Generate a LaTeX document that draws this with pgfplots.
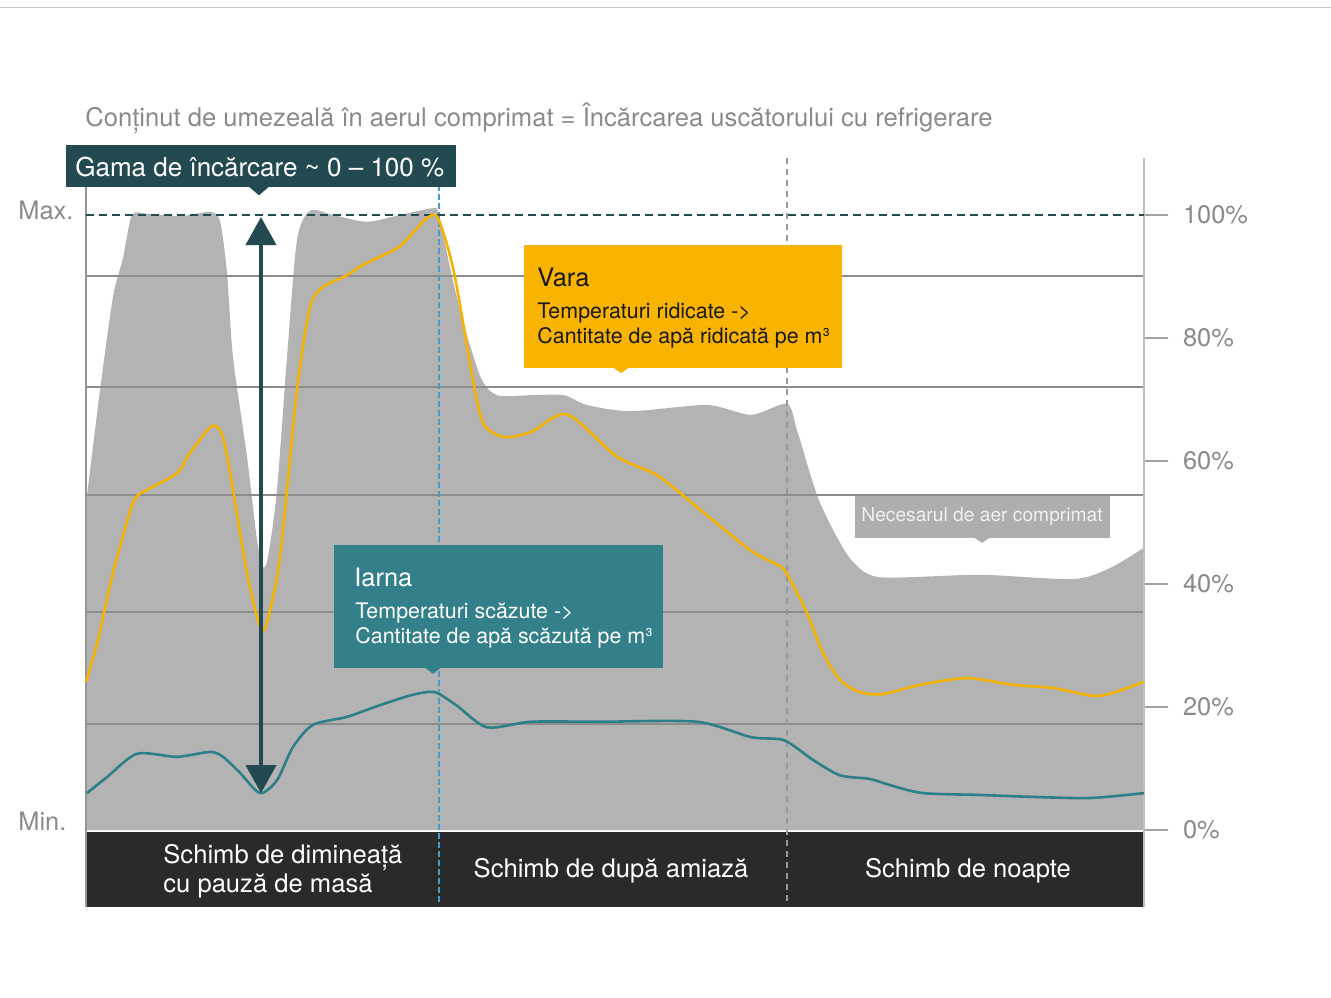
\documentclass[border=0pt]{standalone}
\usepackage{fontspec}
\setmainfont{TeX Gyre Heros}
\usepackage{pgfplots}
\pgfplotsset{compat=1.18}
\usetikzlibrary{arrows.meta}
\definecolor{areagray}{HTML}{B3B3B3}
\definecolor{gridgray}{HTML}{8C8C8C}
\definecolor{txtgray}{HTML}{8A8A8A}
\definecolor{darkteal}{HTML}{234A50}
\definecolor{summer}{HTML}{F8B400}
\definecolor{summerline}{HTML}{F5B400}
\definecolor{winter}{HTML}{337F8A}
\definecolor{winterline}{HTML}{2E8088}
\definecolor{band}{HTML}{2A2A2A}
\definecolor{vblue}{HTML}{4A9BC9}
\begin{document}
\begin{tikzpicture}[x=1pt,y=1pt]
\useasboundingbox (-43,-45) rectangle (622.5,453.5);
\begin{axis}[
 at={(0,0)}, anchor=south west,
 width=529pt, height=374.5pt, scale only axis,
 xmin=86, xmax=1144, ymin=-12.52, ymax=109.27,
 clip=false,
 axis line style={draw=none},
 xtick=\empty,
 ytick={0,20,40,60,80,100},
 yticklabels={0\%,20\%,40\%,60\%,80\%,100\%},
 ytick pos=right, yticklabel pos=right,
 ytick align=outside, major tick length=12pt,
 y tick style={draw=txtgray!80, line width=0.6pt},
 yticklabel style={font=\fontsize{12.7}{15}\selectfont, text=txtgray, anchor=west, xshift=4pt},
 /pgf/number format/assume math mode=true,
]
% demand area
\addplot[draw=none, fill=areagray, smooth, tension=0.45] coordinates {
(86,53.0) (100,71.5) (113,86.7) (123,93.0) (132,100.0) (147,100.2) (180,99.8)
(210,100.5) (220,99.0) (227,90.6) (233,76.9) (247,60.7) (257,47.2) (263,42.8)
(268,44.4) (277,55.3) (287,76.9) (297,95.9) (310,100.7) (333,100.0) (367,98.9)
(400,100.0) (433,101.1) (439,100.0) (451,90.7) (464,82.1) (481,73.5) (497,70.7)
(531,70.7) (564,70.7) (587,69.1) (631,68.1) (707,69.1) (751,67.5) (787,69.3)
(797,65.0) (810,58.0) (820,53.2) (837,47.6) (853,43.6) (880,41.1) (980,41.5)
(1073,40.8) (1110,42.6) (1144,45.9)
} \closedcycle;
% grid lines
\draw[gridgray, line width=0.7pt] (axis cs:86,17.24) -- (axis cs:1144,17.24);
\draw[gridgray, line width=0.7pt] (axis cs:86,35.45) -- (axis cs:1144,35.45);
\draw[gridgray, line width=0.7pt] (axis cs:86,54.47) -- (axis cs:1144,54.47);
\draw[gridgray, line width=0.7pt] (axis cs:86,72.03) -- (axis cs:1144,72.03);
\draw[gridgray, line width=0.7pt] (axis cs:86,90.08) -- (axis cs:1144,90.08);
% bottom band
\fill[band] (axis cs:86,-12.52) rectangle (axis cs:1144,-0.3);
% axis lines
\draw[txtgray!90, line width=0.7pt] (axis cs:86,104.55) -- (axis cs:86,-12.52);
\draw[black!25, line width=1pt] (axis cs:1144,109.27) -- (axis cs:1144,-12.52);
% shift separators
\draw[vblue, line width=0.6pt, dash pattern=on 3pt off 1.5pt] (axis cs:439,109.27) -- (axis cs:439,-11.87);
\draw[black!40, line width=0.75pt, dash pattern=on 3pt off 2.5pt] (axis cs:787,109.27) -- (axis cs:787,-11.87);
% max line
\draw[darkteal, line width=1pt, dash pattern=on 4pt off 2.5pt] (axis cs:86,100) -- (axis cs:1144,100);
% summer
\addplot[summerline, line width=1.3pt, smooth, tension=0.45] coordinates {
(86,24.1) (98,30.9) (113,41.8) (133,53.2) (147,55.3) (177,58.0) (190,61.3)
(212,65.7) (223,63.9) (233,55.3) (247,41.8) (260,33.0) (267,33.7) (280,44.4)
(297,71.5) (310,85.0) (323,88.3) (347,90.2) (363,91.9) (397,94.6) (413,97.1)
(427,99.5) (438,99.5) (454,90.7) (474,72.2) (484,65.9) (504,63.9) (531,64.7)
(567,67.6) (617,60.7) (657,57.7) (697,52.5) (751,45.4) (781,42.8) (790,40.7)
(807,35.3) (823,28.8) (840,24.4) (860,22.4) (883,22.1) (920,23.6) (967,24.7)
(1013,23.6) (1053,23.1) (1093,21.8) (1113,22.3) (1144,24.1)
};
% winter
\addplot[winterline, line width=1.3pt, smooth, tension=0.45] coordinates {
(87,6.0) (107,8.6) (137,12.4) (177,11.9) (210,12.7) (223,11.9) (240,9.3)
(260,6.0) (277,8.1) (293,13.5) (313,17.1) (347,18.4) (380,20.3) (413,22.0)
(435,22.4) (457,20.2) (487,16.7) (531,17.6) (600,17.6) (697,17.6) (751,15.1)
(784,14.6) (813,11.4) (840,8.9) (870,8.3) (890,7.3) (923,6.0) (980,5.7)
(1030,5.4) (1090,5.2) (1144,6.0)
};
% range arrow
\draw[darkteal, line width=2pt, {Triangle[width=15pt,length=14pt]}-{Triangle[width=15pt,length=14pt]}] (axis cs:261,99.67) -- (axis cs:261,6.0);
% title
\node[anchor=west, inner sep=0pt, text=txtgray, font=\fontsize{12.8}{15}\selectfont] at (axis cs:85,115.77) {Conținut de umezeală în aerul comprimat = Încărcarea uscătorului cu refrigerare};
% range box
\fill[darkteal] (axis cs:66,111.38) rectangle (axis cs:456,104.55);
\fill[darkteal] (axis cs:249,104.6) -- (axis cs:269,104.6) -- (axis cs:259,103.2) -- cycle;
\node[anchor=west, inner sep=0pt, text=white, font=\fontsize{13}{15}\selectfont] at (axis cs:75,107.8) {Gama de încărcare \textasciitilde{} 0 – 100 \%};
% Max / Min
\node[anchor=west, inner sep=0pt, text=txtgray, font=\fontsize{12.7}{15}\selectfont] at (axis cs:18,100.8) {Max.};
\node[anchor=west, inner sep=0pt, text=txtgray, font=\fontsize{12.7}{15}\selectfont] at (axis cs:18,1.5) {Min.};
% summer box
\fill[summer] (axis cs:524,95.12) rectangle (axis cs:842,75.12);
\fill[summer] (axis cs:613,75.2) -- (axis cs:629,75.2) -- (axis cs:621,74.3) -- cycle;
\node[anchor=west, inner sep=0pt, text=black!90, font=\fontsize{12.7}{15}\selectfont] at (axis cs:537,89.9) {Vara};
\node[anchor=west, inner sep=0pt, text=black!90, font=\fontsize{10.7}{12}\selectfont] at (axis cs:537,84.0) {Temperaturi ridicate ->};
\node[anchor=west, inner sep=0pt, text=black!90, font=\fontsize{10.7}{12}\selectfont] at (axis cs:537,80.1) {Cantitate de apă ridicată pe m³};
% winter box
\fill[winter] (axis cs:334,46.34) rectangle (axis cs:663,26.34);
\fill[winter] (axis cs:425,26.4) -- (axis cs:441,26.4) -- (axis cs:433,25.4) -- cycle;
\node[anchor=west, inner sep=0pt, text=white, font=\fontsize{12.7}{15}\selectfont] at (axis cs:354,41.1) {Iarna};
\node[anchor=west, inner sep=0pt, text=white, font=\fontsize{10.7}{12}\selectfont] at (axis cs:355,35.2) {Temperaturi scăzute ->};
\node[anchor=west, inner sep=0pt, text=white, font=\fontsize{10.7}{12}\selectfont] at (axis cs:355,31.2) {Cantitate de apă scăzută pe m³};
% demand box
\fill[areagray!97!black] (axis cs:855,54.3) rectangle (axis cs:1110,47.5);
\fill[areagray!97!black] (axis cs:974,47.55) -- (axis cs:990,47.55) -- (axis cs:982,46.7) -- cycle;
\node[inner sep=0pt, text=white!94!black, font=\fontsize{9.6}{11}\selectfont] at (axis cs:982,51.0) {Necesarul de aer comprimat};
% band labels
\node[anchor=west, inner sep=0pt, align=left, text=white, font=\fontsize{12.8}{14.5}\selectfont] at (axis cs:163,-6.75) {Schimb de dimineață\\cu pauză de masă};
\node[inner sep=0pt, text=white, font=\fontsize{12.8}{15}\selectfont] at (axis cs:611,-6.67) {Schimb de după amiază};
\node[inner sep=0pt, text=white, font=\fontsize{12.8}{15}\selectfont] at (axis cs:968,-6.67) {Schimb de noapte};
% top rule
\draw[black!22, line width=0.5pt] (axis cs:0,133.66) -- (axis cs:1331,133.66);
\end{axis}
\end{tikzpicture}
\end{document}
